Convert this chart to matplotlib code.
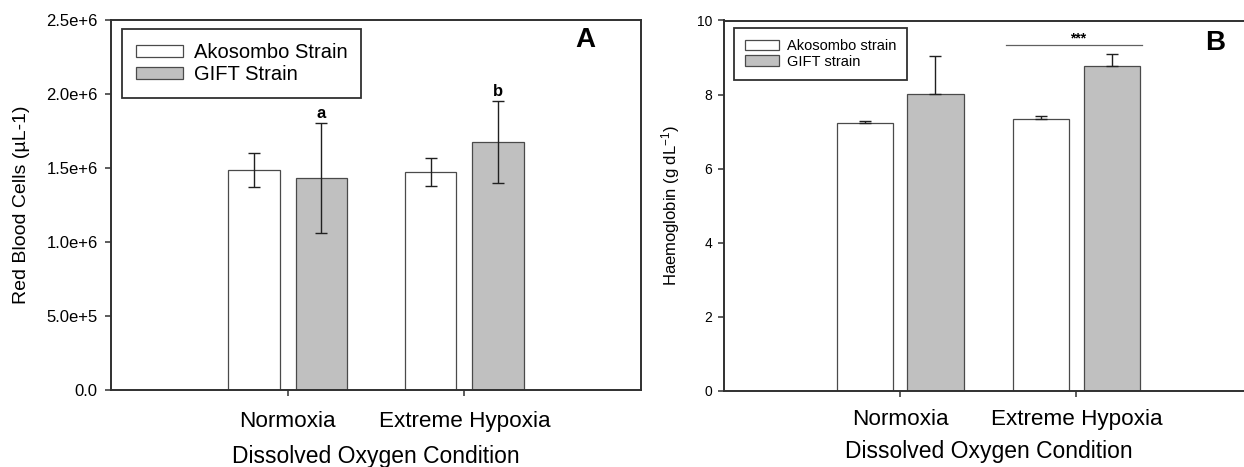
import matplotlib
matplotlib.use("Agg")
import matplotlib.pyplot as plt
import numpy as np

plt.rcParams['font.family'] = ['Liberation Sans', 'DejaVu Sans']
plt.rcParams['mathtext.default'] = 'regular'

# ---- data ----
conditions = ["Normoxia", "Extreme Hypoxia"]
strains_A = ["Akosombo Strain", "GIFT Strain"]
strains_B = ["Akosombo strain", "GIFT strain"]

rbc_akosombo = [1.486e6, 1.475e6]
rbc_akosombo_err = [0.115e6, 0.094e6]
rbc_gift = [1.432e6, 1.676e6]
rbc_gift_err = [0.373e6, 0.274e6]
rbc_letters = ["a", "b"]

hb_akosombo = [7.23, 7.34]
hb_akosombo_err = [0.07, 0.09]
hb_gift = [8.02, 8.78]
hb_gift_err = [1.03, 0.31]
hb_sig_level = 9.35
hb_sig_text = "***"

rbc_ticks = [0.0, 5.0e5, 1.0e6, 1.5e6, 2.0e6, 2.5e6]
rbc_ticklabels = ["0.0", "5.0e+5", "1.0e+6", "1.5e+6", "2.0e+6", "2.5e+6"]
hb_ticks = [0, 2, 4, 6, 8, 10]
hb_ticklabels = ["0", "2", "4", "6", "8", "10"]

W, H = 1244, 467
fig = plt.figure(figsize=(W / 100, H / 100), dpi=100)

def px_axes(l, t, r, b):
    return fig.add_axes([l / W, (H - b) / H, (r - l) / W, (b - t) / H])

axA = px_axes(111, 20, 641, 390)
axB = px_axes(724, 20.5, 1252.7, 391)

GREY = "#c0c0c0"
EDGE = "#4a4a4a"
SPINE = "#303030"
x = np.arange(1, len(conditions) + 1)

def style(ax, ticks, labels, ylim, tfs, xfs):
    ax.set_xlim(0, 3)
    ax.set_ylim(*ylim)
    ax.set_yticks(ticks)
    ax.set_yticklabels(labels, fontsize=tfs)
    ax.set_xticks(x)
    ax.set_xticklabels(conditions, fontsize=xfs)
    for s in ax.spines.values():
        s.set_linewidth(1.4)
        s.set_color(SPINE)
    ax.tick_params(axis='both', direction='out', length=4.5, width=1.1, color=SPINE)

# ---- Panel A ----
wA, offA = 0.29, 0.19
ekw = dict(elinewidth=1.0, capthick=1.0, ecolor="#202020")
axA.bar(x - offA, rbc_akosombo, wA, color="white", edgecolor=EDGE, linewidth=0.9,
        yerr=rbc_akosombo_err, capsize=4.3, error_kw=ekw, label=strains_A[0])
axA.bar(x + offA, rbc_gift, wA, color=GREY, edgecolor=EDGE, linewidth=0.9,
        yerr=rbc_gift_err, capsize=4.3, error_kw=ekw, label=strains_A[1])
style(axA, rbc_ticks, rbc_ticklabels, (0, 2.5e6), 12, 16.2)
axA.tick_params(axis='y', pad=5)
axA.tick_params(axis='x', pad=10.5)
for xi, v, e, t in zip(x + offA, rbc_gift, rbc_gift_err, rbc_letters):
    axA.text(xi, v + e + 0.035e6, t, ha='center', va='baseline', fontsize=12, fontweight='bold')
axA.set_ylabel("Red Blood Cells (\u00b5L-1)", fontsize=14)
axA.yaxis.set_label_coords(-0.153, 0.5)
axA.set_xlabel("Dissolved Oxygen Condition", fontsize=16.5, va='top')
axA.xaxis.set_label_coords(0.5, -0.149)
axA.text(0.894, 0.946, "A", transform=axA.transAxes, ha='center', va='center',
         fontsize=20, fontweight='bold')
legA = axA.legend(loc='upper left', bbox_to_anchor=(0.0208, 0.9757), borderaxespad=0,
                  fontsize=14.5, handlelength=2.35, handleheight=0.55, handletextpad=0.5,
                  borderpad=0.7, labelspacing=0.15, fancybox=False, framealpha=1,
                  edgecolor=SPINE)
legA.get_frame().set_linewidth(1.3)

# ---- Panel B ----
wB, offB = 0.32, 0.20
axB.bar(x - offB, hb_akosombo, wB, color="white", edgecolor=EDGE, linewidth=0.9,
        yerr=[np.zeros(len(hb_akosombo)), hb_akosombo_err], capsize=4.3, error_kw=ekw,
        label=strains_B[0])
axB.bar(x + offB, hb_gift, wB, color=GREY, edgecolor=EDGE, linewidth=0.9,
        yerr=[np.zeros(len(hb_gift)), hb_gift_err], capsize=4.3, error_kw=ekw,
        label=strains_B[1])
style(axB, hb_ticks, hb_ticklabels, (0, 10), 10, 16.2)
axB.tick_params(axis='y', pad=4)
axB.tick_params(axis='x', pad=8.5)
axB.plot([x[1] - 0.4, x[1] + 0.37], [hb_sig_level, hb_sig_level], color="#606060", lw=0.9)
axB.text(x[1] + 0.01, hb_sig_level + 0.06, hb_sig_text, ha='center', va='baseline',
         fontsize=10, fontweight='bold')
axB.set_ylabel("Haemoglobin (g dL$^{-1}$)", fontsize=12)
axB.yaxis.set_label_coords(-0.079, 0.5)
axB.set_xlabel("Dissolved Oxygen Condition", fontsize=16.5, va='top')
axB.xaxis.set_label_coords(0.501, -0.133)
axB.text(0.929, 0.938, "B", transform=axB.transAxes, ha='center', va='center',
         fontsize=20, fontweight='bold')
legB = axB.legend(loc='upper left', bbox_to_anchor=(0.0195, 0.979), borderaxespad=0,
                  fontsize=10.5, handlelength=2.33, handleheight=0.7, handletextpad=0.5,
                  borderpad=0.75, labelspacing=0.1, fancybox=False, framealpha=1,
                  edgecolor=SPINE)
legB.get_frame().set_linewidth(1.3)

fig.savefig("out.png", dpi=100)
